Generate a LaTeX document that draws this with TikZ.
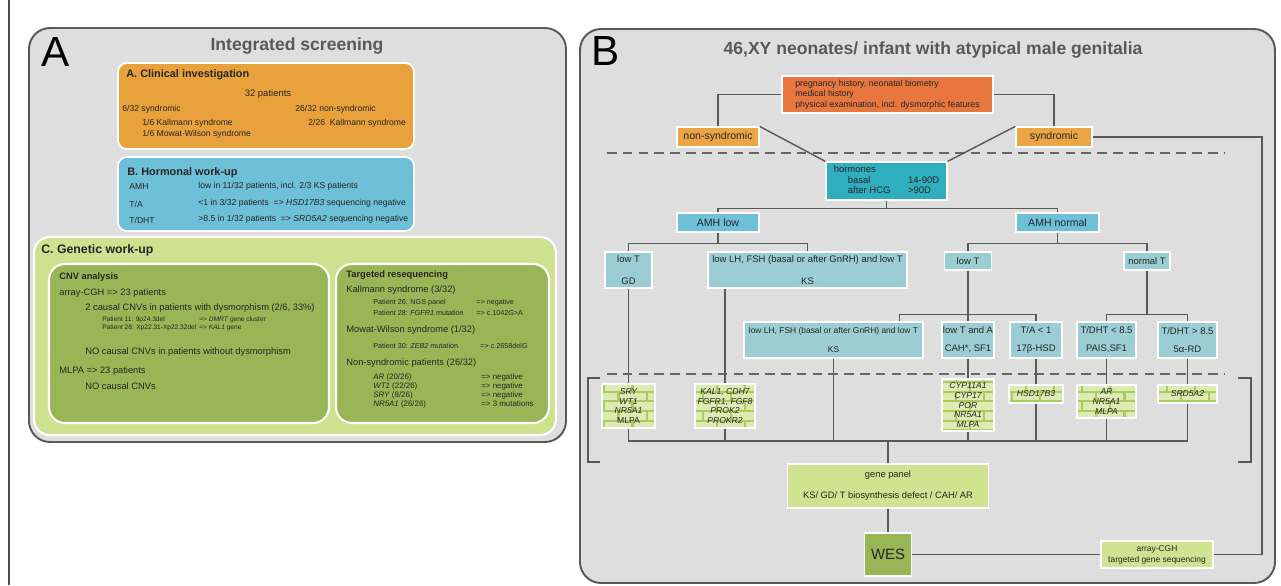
\documentclass[tikz,border=0pt]{standalone}
\usepackage{fontspec}
\setmainfont{Liberation Sans}
\usetikzlibrary{patterns,calc}
\definecolor{panelgray}{HTML}{DEDEDE}
\definecolor{orng}{HTML}{E9A23B}
\definecolor{orngb}{HTML}{EBA545}
\definecolor{histc}{HTML}{E8763F}
\definecolor{hblue}{HTML}{6DC0D8}
\definecolor{tealc}{HTML}{2FAFBE}
\definecolor{lblue}{HTML}{9BCDD4}
\definecolor{lgreen}{HTML}{CDE18F}
\definecolor{dgreen}{HTML}{99B656}
\definecolor{gpgreen}{HTML}{CFE390}
\definecolor{genegreen}{HTML}{DDEBB3}
\definecolor{brickgreen}{HTML}{A9CC60}
\pgfdeclarepatternformonly{genebricks}{\pgfqpoint{-0.7pt}{-0.7pt}}{\pgfqpoint{16.7pt}{11.7pt}}{\pgfqpoint{16pt}{11pt}}{%
  \pgfsetlinewidth{1.2pt}%
  \pgfpathmoveto{\pgfqpoint{0pt}{0pt}}\pgfpathlineto{\pgfqpoint{16pt}{0pt}}%
  \pgfpathmoveto{\pgfqpoint{0pt}{5.5pt}}\pgfpathlineto{\pgfqpoint{16pt}{5.5pt}}%
  \pgfpathmoveto{\pgfqpoint{8pt}{0pt}}\pgfpathlineto{\pgfqpoint{8pt}{5.5pt}}%
  \pgfpathmoveto{\pgfqpoint{0pt}{5.5pt}}\pgfpathlineto{\pgfqpoint{0pt}{11pt}}%
  \pgfusepath{stroke}}
\tikzset{sz/.style 2 args={minimum width=#1*0.02cm,minimum height=#2*0.02cm}}
\begin{document}
\begin{tikzpicture}[x=0.02cm,y=-0.02cm]
        \tikzstyle{panel}=[draw=black!65,line width=1.1pt,fill=panelgray,rounded corners=12pt]
        \tikzstyle{card}=[draw=white,line width=1pt,rounded corners=5pt]
        \tikzstyle{txt}=[anchor=west,inner sep=0pt,text=black!85,font=\fontsize{4.9}{6}\selectfont]
        \tikzstyle{ctxt}=[txt,font=\fontsize{5.3}{6}\selectfont]
        \tikzstyle{stxt}=[txt,font=\fontsize{3.75}{5}\selectfont]
        \tikzstyle{mtxt}=[txt,font=\fontsize{4.5}{5}\selectfont]
        \tikzstyle{hd}=[txt,font=\fontsize{6.2}{7}\selectfont\bfseries]
        \tikzstyle{hdsmall}=[txt,font=\fontsize{5.3}{6}\selectfont\bfseries]
        \tikzstyle{ttl}=[inner sep=0pt,text=black!65,font=\fontsize{10}{12}\selectfont\bfseries]
        \tikzstyle{letter}=[inner sep=0pt,font=\fontsize{24}{24}\selectfont]
        \tikzstyle{bx}=[draw=white,line width=0.7pt,inner sep=0pt,align=center,text=black!85,font=\fontsize{5.4}{6.5}\selectfont]
        \tikzstyle{rowa}=[bx,fill=lblue,font=\fontsize{5.4}{12.3}\selectfont]
        \tikzstyle{rowb}=[bx,fill=lblue,font=\fontsize{5.4}{10.4}\selectfont]
        \tikzstyle{gene}=[bx,preaction={fill=genegreen},pattern=genebricks,pattern color=brickgreen,font=\fontsize{4.9}{5.5}\selectfont\itshape]
        \tikzstyle{link}=[draw=black!65,line width=0.8pt]
        \tikzstyle{sepline}=[draw=black!60,line width=1.2pt,dash pattern=on 5.5pt off 3.5pt]
        \useasboundingbox (0,0) rectangle (1281,585);
        \fill[white] (0,0) rectangle (1281,585);
        \draw[black!70,line width=0.8pt] (9,0) -- (9,585);

        % panel A
        \draw[panel] (29,28) rectangle (566,442);
        \node[letter] (la) at (56,52) {A};
        \node[ttl] (ta) at (297,46) {Integrated screening};

        \draw[card,fill=orng] (118,63) rectangle (414,149);
        \node[hd] (a1) at (126,75) {A. Clinical investigation};
        \node[txt,anchor=center,font=\fontsize{5.4}{6}\selectfont] (a2) at (268,94) {32 patients};
        \node[txt] (a3) at (122,109) {6/32 syndromic};
        \node[txt] (a4) at (295,109) {26/32 non-syndromic};
        \node[txt] (a5) at (142,123) {1/6 Kallmann syndrome};
        \node[txt] (a6) at (308,123) {2/26\ \ Kallmann syndrome};
        \node[txt] (a7) at (142,134) {1/6 Mowat-Wilson syndrome};

        \draw[card,fill=hblue] (118,157) rectangle (414,231);
        \node[hd] (b1) at (127,173) {B. Hormonal work-up};
        \node[txt] (b2) at (129,187) {AMH};
        \node[txt] (b3) at (198,186) {low in 11/32 patients, incl. 2/3 KS patients};
        \node[txt] (b4) at (129,204) {T/A};
        \node[txt] (b5) at (198,203) {<1 in 3/32 patients\ \ => \textit{HSD17B3} sequencing negative};
        \node[txt] (b6) at (129,220) {T/DHT};
        \node[txt] (b7) at (198,219) {>8.5 in 1/32 patients\ \ => \textit{SRD5A2} sequencing negative};

        \draw[card,fill=lgreen,rounded corners=9pt,line width=1.2pt] (34,237) rectangle (556,435);
        \node[hd,font=\fontsize{7}{8}\selectfont\bfseries] (c0) at (41,250) {C. Genetic work-up};
        \draw[card,fill=dgreen,rounded corners=9pt,line width=1.2pt] (49,264) rectangle (329,423);
        \node[hdsmall] (c1) at (59,277) {CNV analysis};
        \node[ctxt] (c2) at (59,293) {array-CGH => 23 patients};
        \node[ctxt] (c3) at (85,308) {2 causal CNVs in patients with dysmorphism (2/6, 33\%)};
        \node[stxt] (c4) at (102,320) {Patient 11: 9p24.3del};
        \node[stxt] (c5) at (199,320) {=> \textit{DMRT} gene cluster};
        \node[stxt] (c6) at (102,328) {Patient 28: Xp22.31-Xp22.32del};
        \node[stxt] (c7) at (199,328) {=> \textit{KAL1} gene};
        \node[ctxt] (c8) at (85,352) {NO causal CNVs in patients without dysmorphism};
        \node[ctxt] (c9) at (59,371) {MLPA => 23 patients};
        \node[ctxt] (c10) at (85,386) {NO causal CNVs};

        \draw[card,fill=dgreen,rounded corners=9pt,line width=1.2pt] (336,264) rectangle (549,423);
        \node[hdsmall] (d1) at (346,275) {Targeted resequencing};
        \node[ctxt] (d2) at (346,290) {Kallmann syndrome (3/32)};
        \node[stxt,font=\fontsize{4.1}{5}\selectfont] (d3) at (373,303) {Patient 26: NGS panel};
        \node[stxt,font=\fontsize{4.1}{5}\selectfont] (d4) at (476,303) {=> negative};
        \node[stxt,font=\fontsize{4.1}{5}\selectfont] (d5) at (373,313) {Patient 28: \textit{FGFR1} mutation};
        \node[stxt,font=\fontsize{4.1}{5}\selectfont] (d6) at (476,313) {=> c.1042G>A};
        \node[ctxt] (d7) at (346,330) {Mowat-Wilson syndrome (1/32)};
        \node[stxt,font=\fontsize{4.1}{5}\selectfont] (d8) at (373,346) {Patient 30: \textit{ZEB2} mutation};
        \node[stxt,font=\fontsize{4.1}{5}\selectfont] (d9) at (480,346) {=> c.2658delG};
        \node[ctxt] (d10) at (346,363) {Non-syndromic patients (26/32)};
        \node[mtxt] (d11) at (373,377) {\textit{AR} (20/26)};
        \node[mtxt] (d12) at (481,377) {=> negative};
        \node[mtxt] (d13) at (373,386) {\textit{WT1} (22/26)};
        \node[mtxt] (d14) at (481,386) {=> negative};
        \node[mtxt] (d15) at (373,395) {\textit{SRY} (8/26)};
        \node[mtxt] (d16) at (481,395) {=> negative};
        \node[mtxt] (d17) at (373,404) {\textit{NR5A1} (26/26)};
        \node[mtxt] (d18) at (481,404) {=> 3 mutations};

        % panel B
        \draw[panel] (580,29) rectangle (1275,583);
        \node[letter] (lb) at (606,51) {B};
        \node[ttl] (tb) at (933,50) {46,XY neonates/ infant with atypical male genitalia};
        \draw[sepline] (607,153) -- (1225,153);
        \draw[sepline] (607,374) -- (1225,374);
        \draw[link] (600,378) -- (588,378) -- (588,462) -- (600,462);
        \draw[link] (1238,378) -- (1251,378) -- (1251,462) -- (1238,462);

        \node[bx,fill=histc,sz={211}{37},align=left,font=\fontsize{5}{6.1}\selectfont] (h0) at (887.5,94.5) {pregnancy history, neonatal biometry\\medical history\\physical examination, incl. dysmorphic features};
        \node[bx,fill=orngb,sz={82}{20},font=\fontsize{6}{7}\selectfont] (h1) at (718,137) {non-syndromic};
        \node[bx,fill=orngb,sz={76}{20},font=\fontsize{6}{7}\selectfont] (h2) at (1054,137) {syndromic};
        \node[bx,fill=tealc,sz={121}{38},font=\fontsize{5.4}{6}\selectfont] (h3) at (886.5,181) {\begin{tabular}{@{}l@{\hspace{10pt}}l@{}}hormones&\\\hspace*{8pt}basal&14-90D\\\hspace*{8pt}after HCG&>90D\end{tabular}};
        \node[bx,fill=hblue,sz={82}{19},font=\fontsize{6}{7}\selectfont] (h4) at (718,222.5) {AMH low};
        \node[bx,fill=hblue,sz={83}{19},font=\fontsize{6}{7}\selectfont] (h5) at (1057.5,222.5) {AMH normal};

        \node[rowa,sz={47}{36}] (k1) at (628.5,270) {low T\\GD};
        \node[rowa,sz={199}{36}] (k2) at (807.5,270) {low LH, FSH (basal or after GnRH) and low T\\KS};
        \node[rowa,sz={47}{18}] (k3) at (968,261) {low T};
        \node[rowa,sz={46}{18}] (k4) at (1147,261) {normal T};

        \node[rowb,sz={179}{36},font=\fontsize{4.8}{10.4}\selectfont] (m1) at (833.5,340) {low LH, FSH (basal or after GnRH) and low T\\KS};
        \node[rowb,sz={52}{36}] (m2) at (968,340) {low T and A\\CAH*, SF1};
        \node[rowb,sz={52}{36}] (m3) at (1036,340) {T/A < 1\\17β-HSD};
        \node[rowb,sz={59}{36}] (m4) at (1106.5,340) {T/DHT < 8.5\\PAIS,SF1};
        \node[rowb,sz={59}{36}] (m5) at (1187.5,340) {T/DHT > 8.5\\5α-RD};

        \node[gene,sz={53}{44}] (g1) at (628.5,406) {SRY\\WT1\\NR5A1\\\upshape MLPA};
        \node[gene,sz={60}{44}] (g2) at (725,406) {KAL1, CDH7\\FGFR1, FGF8\\PROK2\\PROKR2};
        \node[gene,sz={52}{52}] (g3) at (968,405) {CYP11A1\\CYP17\\POR\\NR5A1\\MLPA};
        \node[gene,sz={54}{18}] (g4) at (1036,394) {HSD17B3};
        \node[gene,sz={59}{33}] (g5) at (1106.5,401.5) {AR\\NR5A1\\MLPA};
        \node[gene,sz={59}{18}] (g6) at (1187.5,394) {SRD5A2};

        \node[bx,fill=gpgreen,sz={201}{44},font=\fontsize{5.3}{12}\selectfont] (p1) at (888,486) {gene panel\\KS/ GD/ T biosynthesis defect / CAH/ AR};
        \node[bx,fill=dgreen,sz={47}{43},font=\fontsize{8.5}{10}\selectfont] (p2) at (888,554.5) {WES};
        \node[bx,fill=gpgreen,sz={112}{27},font=\fontsize{4.8}{6.2}\selectfont] (p3) at (1157,554.5) {array-CGH\\targeted gene sequencing};

        \draw[link] (h0.west) -| (h1.north);
        \draw[link] (h0.east) -| (h2.north);
        \draw[link] (h1.north east) -- (h3.north west);
        \draw[link] (h2.north west) -- (h3.north east);
        \coordinate (r0) at (1262,554.5);
        \draw[link] (h2.east) -| (r0) -- (p3.east);
        \draw[link] (h3.south) -- ++(0,8) -| (h4.north);
        \draw[link] (h3.south) -- ++(0,8) -| (h5.north);
        \draw[link] (h4.south) -- ++(0,11) -| (k1.north);
        \draw[link] (h4.south) -- ++(0,11) -| (k2.north);
        \draw[link] (h5.south) -- ++(0,11) -| (k3.north);
        \draw[link] (h5.south) -- ++(0,11) -| (k4.north);
        \coordinate (m1t) at ($(m1.north east)+(-24,0)$);
        \draw[link] (k3.south) -- ++(0,44) -| (m1t);
        \draw[link] (k3.south) -- (m2.north);
        \draw[link] (k3.south) -- ++(0,44) -| (m3.north);
        \draw[link] (k4.south) -- ++(0,44) -| (m4.north);
        \draw[link] (k4.south) -- ++(0,44) -| (m5.north);
        \draw[link] (k1.south) -- (g1.north);
        \draw[link] (k2.south -| g2.north) -- (g2.north);
        \draw[link] (m2.south) -- (g3.north);
        \draw[link] (m3.south) -- (g4.north);
        \draw[link] (m4.south) -- (g5.north);
        \draw[link] (m5.south) -- (g6.north);
        \coordinate (q0) at (888,441);
        \foreach \n in {g1,g2,m1,g3,g4,g5,g6}
          \draw[link] (\n.south) |- (q0);
        \draw[link] (q0) -- (p1.north);
        \draw[link] (p1.south) -- (p2.north);
        \draw[link] (p2.east) -- (p3.west);
\end{tikzpicture}
\end{document}
